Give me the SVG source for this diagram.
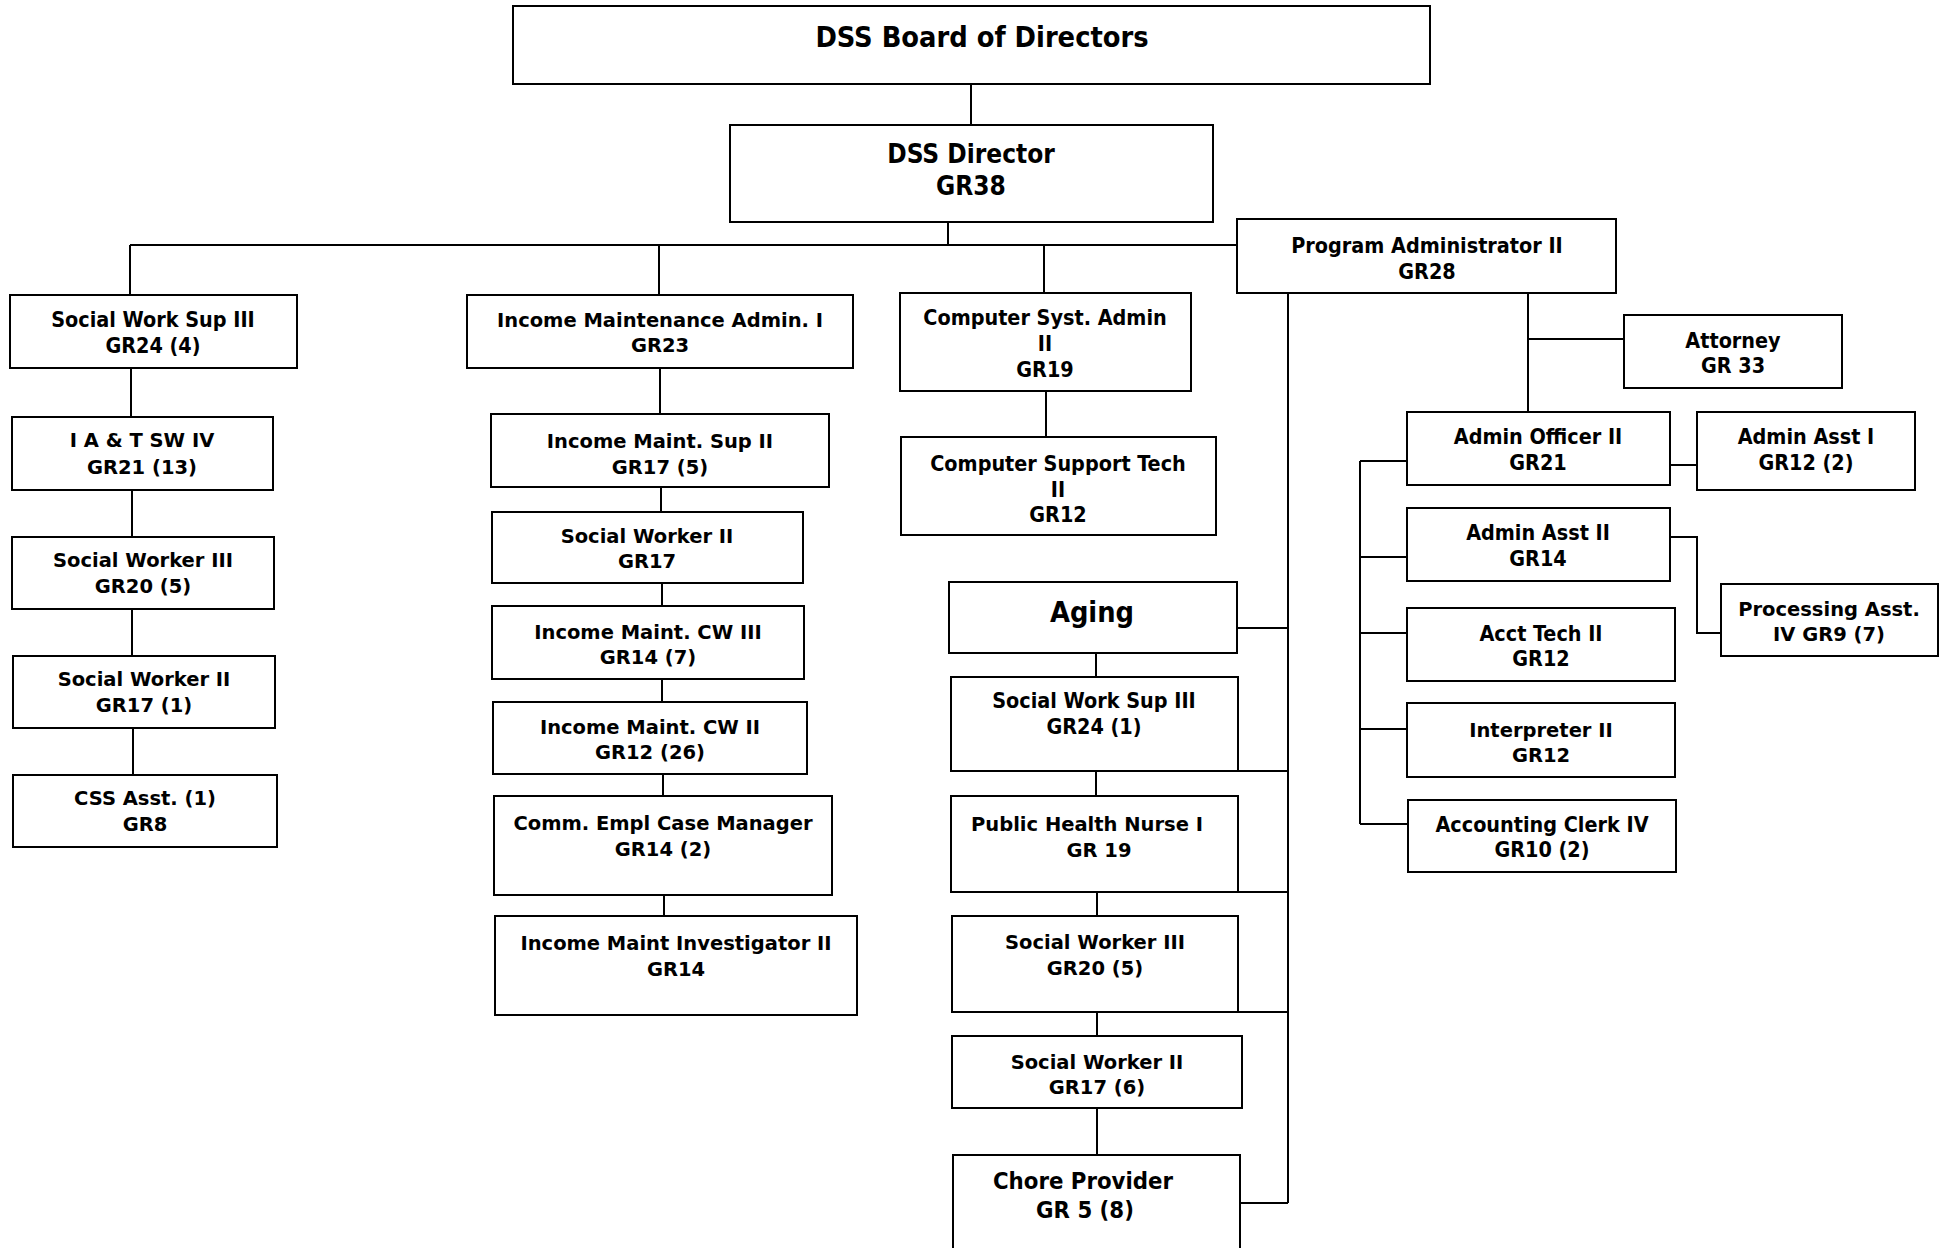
<svg xmlns="http://www.w3.org/2000/svg" width="1944" height="1248" viewBox="0 0 1944 1248">
  <style>
    .box { fill: #ffffff; stroke: #000000; stroke-width: 2; }
    .wire { fill: none; stroke: #000000; stroke-width: 2; }
    text { fill: #000000; font-weight: bold; text-anchor: middle; }
    .t { font-family: "DejaVu Sans Condensed", "DejaVu Sans", sans-serif; font-stretch: condensed; font-size: 21.4px; }
    .v { font-family: "DejaVu Sans", "Verdana", sans-serif; font-size: 19.5px; }
    .big { font-family: "DejaVu Sans Condensed", "DejaVu Sans", sans-serif; font-stretch: condensed; font-size: 28.7px; }
    .mid { font-family: "DejaVu Sans Condensed", "DejaVu Sans", sans-serif; font-stretch: condensed; font-size: 26px; }
    .chore { font-family: "DejaVu Sans Condensed", "DejaVu Sans", sans-serif; font-stretch: condensed; font-size: 23.7px; }
  </style>
  <rect width="1944" height="1248" fill="#ffffff"/>

  <!-- connectors -->
  <g id="connectors" class="wire">
    <line x1="971" y1="84" x2="971" y2="125"/>
    <line x1="948" y1="222" x2="948" y2="245"/>
    <line x1="130" y1="245" x2="1237" y2="245"/>
    <line x1="130" y1="245" x2="130" y2="295"/>
    <line x1="659" y1="245" x2="659" y2="295"/>
    <line x1="1044" y1="245" x2="1044" y2="293"/>
    <!-- social work column -->
    <line x1="131" y1="368" x2="131" y2="417"/>
    <line x1="132" y1="490" x2="132" y2="537"/>
    <line x1="132" y1="609" x2="132" y2="656"/>
    <line x1="133" y1="728" x2="133" y2="775"/>
    <!-- income maintenance column -->
    <line x1="660" y1="368" x2="660" y2="414"/>
    <line x1="661" y1="487" x2="661" y2="512"/>
    <line x1="662" y1="583" x2="662" y2="606"/>
    <line x1="662" y1="679" x2="662" y2="702"/>
    <line x1="663" y1="774" x2="663" y2="796"/>
    <line x1="664" y1="895" x2="664" y2="916"/>
    <!-- computer column -->
    <line x1="1046" y1="391" x2="1046" y2="437"/>
    <!-- aging column -->
    <line x1="1096" y1="653" x2="1096" y2="677"/>
    <line x1="1096" y1="771" x2="1096" y2="796"/>
    <line x1="1097" y1="892" x2="1097" y2="916"/>
    <line x1="1097" y1="1012" x2="1097" y2="1036"/>
    <line x1="1097" y1="1108" x2="1097" y2="1155"/>
    <!-- program administrator trunk to aging -->
    <line x1="1288" y1="293" x2="1288" y2="1203"/>
    <line x1="1237" y1="628" x2="1288" y2="628"/>
    <line x1="1238" y1="771" x2="1288" y2="771"/>
    <line x1="1238" y1="892" x2="1288" y2="892"/>
    <line x1="1238" y1="1012" x2="1288" y2="1012"/>
    <line x1="1240" y1="1203" x2="1288" y2="1203"/>
    <!-- program administrator to admin officer / attorney -->
    <line x1="1528" y1="293" x2="1528" y2="412"/>
    <line x1="1528" y1="339" x2="1624" y2="339"/>
    <line x1="1670" y1="465" x2="1697" y2="465"/>
    <polyline points="1670,537 1697,537 1697,633 1721,633"/>
    <!-- admin officer bracket -->
    <line x1="1360" y1="461" x2="1360" y2="824"/>
    <line x1="1360" y1="461" x2="1407" y2="461"/>
    <line x1="1360" y1="557" x2="1407" y2="557"/>
    <line x1="1360" y1="633" x2="1407" y2="633"/>
    <line x1="1360" y1="729" x2="1407" y2="729"/>
    <line x1="1360" y1="824" x2="1408" y2="824"/>
  </g>

  <!-- top of the chart -->
  <g id="board">
    <rect class="box" x="513" y="6" width="917" height="78"/>
    <text class="big" x="982" y="47">DSS Board of Directors</text>
  </g>
  <g id="director">
    <rect class="box" x="730" y="125" width="483" height="97"/>
    <text class="mid"><tspan x="971" y="163">DSS Director</tspan><tspan x="971" y="195">GR38</tspan></text>
  </g>
  <g id="program-admin">
    <rect class="box" x="1237" y="219" width="379" height="74"/>
    <text class="t"><tspan x="1427" y="253">Program Administrator II</tspan><tspan x="1427" y="279">GR28</tspan></text>
  </g>

  <!-- social work column -->
  <g id="sw-sup-3">
    <rect class="box" x="10" y="295" width="287" height="73"/>
    <text class="t"><tspan x="153" y="327">Social Work Sup III</tspan><tspan x="153" y="353">GR24 (4)</tspan></text>
  </g>
  <g id="iat-sw-4">
    <rect class="box" x="12" y="417" width="261" height="73"/>
    <text class="v"><tspan x="142" y="447">I A &amp; T SW IV</tspan><tspan x="142" y="474">GR21 (13)</tspan></text>
  </g>
  <g id="sw-3">
    <rect class="box" x="12" y="537" width="262" height="72"/>
    <text class="v"><tspan x="143" y="567">Social Worker III</tspan><tspan x="143" y="593">GR20 (5)</tspan></text>
  </g>
  <g id="sw-2">
    <rect class="box" x="13" y="656" width="262" height="72"/>
    <text class="v"><tspan x="144" y="686">Social Worker II</tspan><tspan x="144" y="712">GR17 (1)</tspan></text>
  </g>
  <g id="css-asst">
    <rect class="box" x="13" y="775" width="264" height="72"/>
    <text class="v"><tspan x="145" y="805">CSS Asst. (1)</tspan><tspan x="145" y="831">GR8</tspan></text>
  </g>

  <!-- income maintenance column -->
  <g id="im-admin-1">
    <rect class="box" x="467" y="295" width="386" height="73"/>
    <text class="v"><tspan x="660" y="327">Income Maintenance Admin. I</tspan><tspan x="660" y="352">GR23</tspan></text>
  </g>
  <g id="im-sup-2">
    <rect class="box" x="491" y="414" width="338" height="73"/>
    <text class="v"><tspan x="660" y="448">Income Maint. Sup II</tspan><tspan x="660" y="474">GR17 (5)</tspan></text>
  </g>
  <g id="im-sw-2">
    <rect class="box" x="492" y="512" width="311" height="71"/>
    <text class="v"><tspan x="647" y="543">Social Worker II</tspan><tspan x="647" y="568">GR17</tspan></text>
  </g>
  <g id="im-cw-3">
    <rect class="box" x="492" y="606" width="312" height="73"/>
    <text class="v"><tspan x="648" y="639">Income Maint. CW III</tspan><tspan x="648" y="664">GR14 (7)</tspan></text>
  </g>
  <g id="im-cw-2">
    <rect class="box" x="493" y="702" width="314" height="72"/>
    <text class="v"><tspan x="650" y="734">Income Maint. CW II</tspan><tspan x="650" y="759">GR12 (26)</tspan></text>
  </g>
  <g id="case-manager">
    <rect class="box" x="494" y="796" width="338" height="99"/>
    <text class="v"><tspan x="663" y="830">Comm. Empl Case Manager</tspan><tspan x="663" y="856">GR14 (2)</tspan></text>
  </g>
  <g id="im-investigator">
    <rect class="box" x="495" y="916" width="362" height="99"/>
    <text class="v"><tspan x="676" y="950">Income Maint Investigator II</tspan><tspan x="676" y="976">GR14</tspan></text>
  </g>

  <!-- computer column -->
  <g id="sys-admin">
    <rect class="box" x="900" y="293" width="291" height="98"/>
    <text class="t"><tspan x="1045" y="325">Computer Syst. Admin</tspan><tspan x="1045" y="351">II</tspan><tspan x="1045" y="377">GR19</tspan></text>
  </g>
  <g id="support-tech">
    <rect class="box" x="901" y="437" width="315" height="98"/>
    <text class="t"><tspan x="1058" y="471">Computer Support Tech</tspan><tspan x="1058" y="497">II</tspan><tspan x="1058" y="522">GR12</tspan></text>
  </g>

  <!-- aging column -->
  <g id="aging">
    <rect class="box" x="949" y="582" width="288" height="71"/>
    <text class="big" x="1092" y="622">Aging</text>
  </g>
  <g id="aging-sw-sup-3">
    <rect class="box" x="951" y="677" width="287" height="94"/>
    <text class="t"><tspan x="1094" y="708">Social Work Sup III</tspan><tspan x="1094" y="734">GR24 (1)</tspan></text>
  </g>
  <g id="nurse">
    <rect class="box" x="951" y="796" width="287" height="96"/>
    <text class="v"><tspan x="1087" y="831">Public Health Nurse I</tspan><tspan x="1099" y="857">GR 19</tspan></text>
  </g>
  <g id="aging-sw-3">
    <rect class="box" x="952" y="916" width="286" height="96"/>
    <text class="v"><tspan x="1095" y="949">Social Worker III</tspan><tspan x="1095" y="975">GR20 (5)</tspan></text>
  </g>
  <g id="aging-sw-2">
    <rect class="box" x="952" y="1036" width="290" height="72"/>
    <text class="v"><tspan x="1097" y="1069">Social Worker II</tspan><tspan x="1097" y="1094">GR17 (6)</tspan></text>
  </g>
  <g id="chore">
    <rect class="box" x="953" y="1155" width="287" height="110"/>
    <text class="chore"><tspan x="1083" y="1189">Chore Provider</tspan><tspan x="1085" y="1218">GR 5 (8)</tspan></text>
  </g>

  <!-- administration branch -->
  <g id="attorney">
    <rect class="box" x="1624" y="315" width="218" height="73"/>
    <text class="t"><tspan x="1733" y="348">Attorney</tspan><tspan x="1733" y="373">GR 33</tspan></text>
  </g>
  <g id="admin-officer">
    <rect class="box" x="1407" y="412" width="263" height="73"/>
    <text class="t"><tspan x="1538" y="444">Admin Officer II</tspan><tspan x="1538" y="470">GR21</tspan></text>
  </g>
  <g id="admin-asst-1">
    <rect class="box" x="1697" y="412" width="218" height="78"/>
    <text class="t"><tspan x="1806" y="444">Admin Asst I</tspan><tspan x="1806" y="470">GR12 (2)</tspan></text>
  </g>
  <g id="admin-asst-2">
    <rect class="box" x="1407" y="508" width="263" height="73"/>
    <text class="t"><tspan x="1538" y="540">Admin Asst II</tspan><tspan x="1538" y="566">GR14</tspan></text>
  </g>
  <g id="acct-tech">
    <rect class="box" x="1407" y="608" width="268" height="73"/>
    <text class="t"><tspan x="1541" y="641">Acct Tech II</tspan><tspan x="1541" y="666">GR12</tspan></text>
  </g>
  <g id="processing">
    <rect class="box" x="1721" y="584" width="217" height="72"/>
    <text class="v"><tspan x="1829" y="616">Processing Asst.</tspan><tspan x="1829" y="641">IV GR9 (7)</tspan></text>
  </g>
  <g id="interpreter">
    <rect class="box" x="1407" y="703" width="268" height="74"/>
    <text class="v"><tspan x="1541" y="737">Interpreter II</tspan><tspan x="1541" y="762">GR12</tspan></text>
  </g>
  <g id="accounting-clerk">
    <rect class="box" x="1408" y="800" width="268" height="72"/>
    <text class="t"><tspan x="1542" y="832">Accounting Clerk IV</tspan><tspan x="1542" y="857">GR10 (2)</tspan></text>
  </g>
</svg>
